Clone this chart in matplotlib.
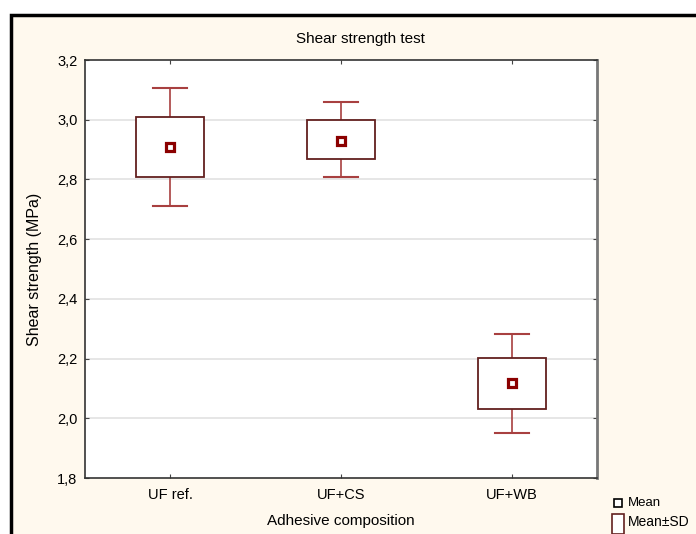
import numpy as np
import matplotlib.pyplot as plt
from matplotlib.patches import Rectangle

plt.rcParams['font.family'] = ['Liberation Sans', 'DejaVu Sans']

groups = ['UF ref.', 'UF+CS', 'UF+WB']
means = [2.91, 2.93, 2.118]
box_low = [2.808, 2.870, 2.032]
box_high = [3.008, 2.998, 2.202]
whisk_low = [2.712, 2.808, 1.951]
whisk_high = [3.107, 3.058, 2.283]
y_ticks = [1.8, 2.0, 2.2, 2.4, 2.6, 2.8, 3.0, 3.2]

bg = '#FFF9EE'
box_col = '#62201F'
whisk_col = '#A84040'
mean_col = '#8B0000'

fig = plt.figure(figsize=(6.96, 5.34), dpi=100)
fig.patch.set_facecolor('white')
# cream panel with black frame (Statistica-style)
panel = Rectangle((11 / 696, -0.05), 1.1, 1 - 15 / 534 + 0.05, transform=fig.transFigure,
                  facecolor=bg, edgecolor='black', linewidth=2.5, zorder=-10)
fig.patches.append(panel)

ax = fig.add_axes([85 / 696, 1 - 478 / 534, (597 - 85) / 696, (478 - 60) / 534])
ax.set_facecolor('white')
ax.set_xlim(0.5, 3.5)
ax.set_ylim(1.8, 3.2)

for y in y_ticks[1:-1]:
    ax.axhline(y, color='#E2E2E2', linewidth=1.2, zorder=0)

x = np.arange(1, len(groups) + 1)
bw = 0.4
cw = 0.2
for xi, m, bl, bh, wl, wh in zip(x, means, box_low, box_high, whisk_low, whisk_high):
    ax.plot([xi, xi], [bh, wh], color=whisk_col, linewidth=1.2, zorder=2)
    ax.plot([xi, xi], [wl, bl], color=whisk_col, linewidth=1.2, zorder=2)
    ax.plot([xi - cw / 2, xi + cw / 2], [wh, wh], color=whisk_col, linewidth=1.5, zorder=2)
    ax.plot([xi - cw / 2, xi + cw / 2], [wl, wl], color=whisk_col, linewidth=1.5, zorder=2)
    ax.add_patch(Rectangle((xi - bw / 2, bl), bw, bh - bl, facecolor='white',
                           edgecolor=box_col, linewidth=1.3, zorder=3))
    ax.plot(xi, m, marker='s', markersize=5.5, markerfacecolor='white',
            markeredgecolor=mean_col, markeredgewidth=2.3, zorder=4)

ax.set_xticks(x)
ax.set_xticklabels(groups)
ax.set_yticks(y_ticks)
ax.set_yticklabels([f'{v:.1f}'.replace('.', ',') for v in y_ticks])
ax.tick_params(direction='in', length=3, labelsize=10.5, top=True, right=True,
               colors='#444444', labelcolor='black')
ax.tick_params(axis='y', pad=5.5)
ax.tick_params(axis='x', pad=7.5)
for s in ['left', 'bottom', 'top']:
    ax.spines[s].set_color('#333333')
    ax.spines[s].set_linewidth(1.2)
ax.spines['right'].set_color('#777777')
ax.spines['right'].set_linewidth(2)

# title sits a bit right of the plot centre, as in the original
fig.text(360 / 696, 1 - 39 / 534, 'Shear strength test', fontsize=11,
         ha='center', va='center')
ax.set_xlabel('Adhesive composition', fontsize=11, labelpad=8)
ax.set_ylabel('Shear strength (MPa)', fontsize=11.5, labelpad=11)

# legend
fig.patches.append(Rectangle((614 / 696, 1 - 507 / 534), 8 / 696, 8 / 534,
                             transform=fig.transFigure, facecolor='white',
                             edgecolor='black', linewidth=1.2))
fig.text(628 / 696, 1 - 503 / 534, 'Mean', fontsize=9.5, va='center')
fig.patches.append(Rectangle((612 / 696, 1 - 534 / 534), 12 / 696, 20 / 534,
                             transform=fig.transFigure, facecolor='white',
                             edgecolor=box_col, linewidth=1.2))
fig.text(628 / 696, 1 - 522 / 534, 'Mean±SD', fontsize=10, va='center')

fig.savefig('out.png', dpi=100)
